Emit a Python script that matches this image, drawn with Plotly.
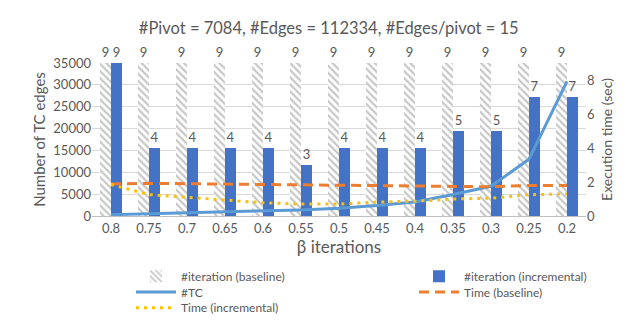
import plotly.graph_objects as go

categories = ["0.8", "0.75", "0.7", "0.65", "0.6", "0.55", "0.5", "0.45", "0.4", "0.35", "0.3", "0.25", "0.2"]
iter_baseline = [9, 9, 9, 9, 9, 9, 9, 9, 9, 9, 9, 9, 9]
iter_incremental = [9, 4, 4, 4, 4, 3, 4, 4, 4, 5, 5, 7, 7]
tc_edges = [300, 500, 700, 900, 1100, 1400, 1800, 2400, 3200, 4900, 6800, 13000, 30800]
time_baseline = [1.88, 1.92, 1.9, 1.88, 1.85, 1.8, 1.8, 1.8, 1.78, 1.75, 1.72, 1.8, 1.8]
time_incremental = [1.85, 1.26, 1.1, 0.93, 0.78, 0.7, 0.7, 0.82, 0.87, 1.0, 1.05, 1.25, 1.3]

FONT = "Lato"
GREY = "#595959"

TOP, BOTTOM, LEFT, RIGHT = 55, 220, 84, 578
PH = BOTTOM - TOP
PW = RIGHT - LEFT


def ly(px):
    return (BOTTOM - px) / PH


def lx(px):
    return (px - LEFT) / PW


fig = go.Figure()

fig.add_trace(go.Bar(
    x=categories, y=iter_baseline, name="#iteration (baseline)",
    marker=dict(color="white", line=dict(width=0),
                pattern=dict(shape="\\", fgcolor="#8F8F8F", bgcolor="white", size=5, solidity=0.45)),
    text=iter_baseline, textposition="outside", cliponaxis=False,
    textfont=dict(color=GREY, size=13, family=FONT),
    yaxis="y", legend="legend", showlegend=True))
fig.add_trace(go.Bar(
    x=categories, y=iter_incremental, name="#iteration (incremental)",
    marker=dict(color="#4472C4", line=dict(width=0)),
    text=iter_incremental, textposition="outside", cliponaxis=False,
    textfont=dict(color=GREY, size=13, family=FONT),
    yaxis="y", legend="legend2", showlegend=True))
fig.add_trace(go.Scatter(
    x=categories, y=tc_edges, name="#TC", mode="lines",
    line=dict(color="#5B9BD5", width=3), yaxis="y2", legend="legend3", showlegend=True))
fig.add_trace(go.Scatter(
    x=categories, y=time_baseline, name="Time (baseline)", mode="lines",
    line=dict(color="#ED7D31", width=3, dash="10px,6px"), yaxis="y3", legend="legend4", showlegend=True))
fig.add_trace(go.Scatter(
    x=categories, y=time_incremental, name="Time (incremental)", mode="lines",
    line=dict(color="#FFC000", width=3, dash="3px,5px"), yaxis="y3", legend="legend5", showlegend=True))

legend_common = dict(orientation="v", itemwidth=40, font=dict(size=12, color=GREY, family=FONT),
                     bgcolor="rgba(0,0,0,0)", xanchor="left", yanchor="middle")

fig.update_layout(
    width=629, height=327,
    showlegend=True,
    margin=dict(l=LEFT, r=629 - RIGHT, t=TOP, b=327 - BOTTOM),
    paper_bgcolor="white", plot_bgcolor="white",
    font=dict(family=FONT, color=GREY, size=12),
    barmode="group", bargap=0.42, bargroupgap=0,
    title=dict(text="#Pivot = 7084, #Edges = 112334, #Edges/pivot = 15",
               x=0.51, xanchor="center", y=1 - 20 / 327, yanchor="middle",
               font=dict(size=16.5, color=GREY, family=FONT)),
    xaxis=dict(type="category", showgrid=False, showline=True, linecolor="#BFBFBF", linewidth=1,
               ticks="", tickfont=dict(size=13, color=GREY),
               title=dict(text="β iterations", font=dict(size=17, color=GREY), standoff=5)),
    yaxis=dict(range=[0, 9], visible=False, showgrid=False),
    yaxis2=dict(range=[0, 35000], dtick=5000, tickformat="d", overlaying="y", side="left",
                showgrid=True, gridcolor="#D9D9D9", gridwidth=1, zeroline=False,
                tickfont=dict(size=13, color=GREY), ticks="",
                title=dict(text="Number of TC edges", font=dict(size=15, color=GREY), standoff=4)),
    yaxis3=dict(range=[0, 9], tickvals=[0, 2, 4, 6, 8], overlaying="y", side="right",
                showgrid=False, zeroline=False, ticks="",
                tickfont=dict(size=13, color=GREY),
                title=dict(text="Execution time (sec)", font=dict(size=14, color=GREY), standoff=8)),
    legend=dict(x=lx(123), y=ly(285), visible=True, **legend_common),
    legend2=dict(x=lx(406), y=ly(285), visible=True, **legend_common),
    legend3=dict(x=lx(123), y=ly(302), visible=True, **legend_common),
    legend4=dict(x=lx(406), y=ly(302), visible=True, **legend_common),
    legend5=dict(x=lx(123), y=ly(319), visible=True, **legend_common),
)

fig.write_html("out.html")
